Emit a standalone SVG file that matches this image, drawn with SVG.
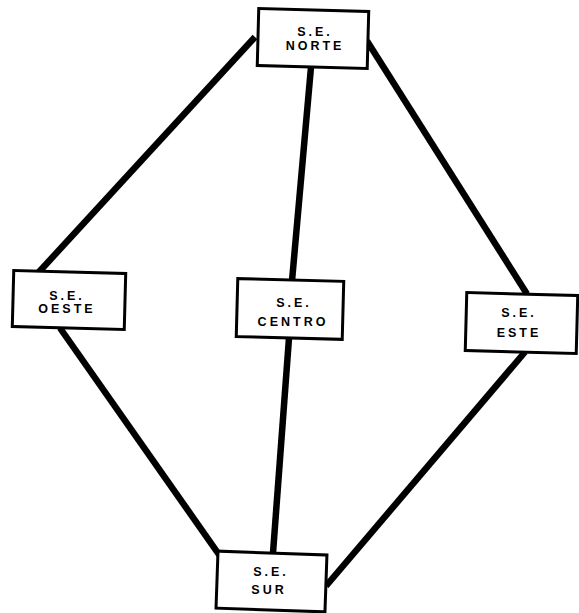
<svg xmlns="http://www.w3.org/2000/svg" width="579" height="613" viewBox="0 0 579 613">
<style>
.box{fill:#fff;stroke:#000;stroke-width:3}
.ln{stroke:#000;stroke-width:6.5;stroke-linecap:butt}
text{font-family:"Liberation Sans",Arial,sans-serif;font-weight:bold;font-size:12.5px;letter-spacing:3px;text-anchor:middle;fill:#000}
</style>
<rect width="579" height="613" fill="#fff"/>
<g id="connectors">
<line class="ln" x1="255" y1="37" x2="38" y2="273"/>
<line class="ln" x1="311" y1="67" x2="292" y2="281"/>
<line class="ln" x1="367" y1="41" x2="527" y2="294"/>
<line class="ln" x1="60" y1="328" x2="227" y2="566"/>
<line class="ln" x1="289" y1="338" x2="273" y2="553"/>
<line class="ln" x1="525" y1="352" x2="326" y2="586"/>
</g>
<g id="norte">
<rect class="box" x="258" y="10" width="110" height="57" transform="rotate(1.5 313 38)"/>
<text x="315" y="36">S.E.</text>
<text x="315" y="50">NORTE</text>
</g>
<g id="oeste">
<rect class="box" x="13" y="272" width="112" height="56" transform="rotate(1.5 69 300)"/>
<text x="67" y="300">S.E.</text>
<text x="67" y="313">OESTE</text>
</g>
<g id="centro">
<rect class="box" x="237" y="280" width="106" height="58" transform="rotate(1.5 290 309)"/>
<text x="294" y="307">S.E.</text>
<text x="293" y="326">CENTRO</text>
</g>
<g id="este">
<rect class="box" x="466" y="294" width="111" height="58" transform="rotate(1.5 521 323)"/>
<text x="519" y="317">S.E.</text>
<text x="519" y="337">ESTE</text>
</g>
<g id="sur">
<rect class="box" x="217" y="553" width="109" height="57" transform="rotate(2 271 581)"/>
<text x="271" y="576">S.E.</text>
<text x="269" y="594">SUR</text>
</g>
</svg>
